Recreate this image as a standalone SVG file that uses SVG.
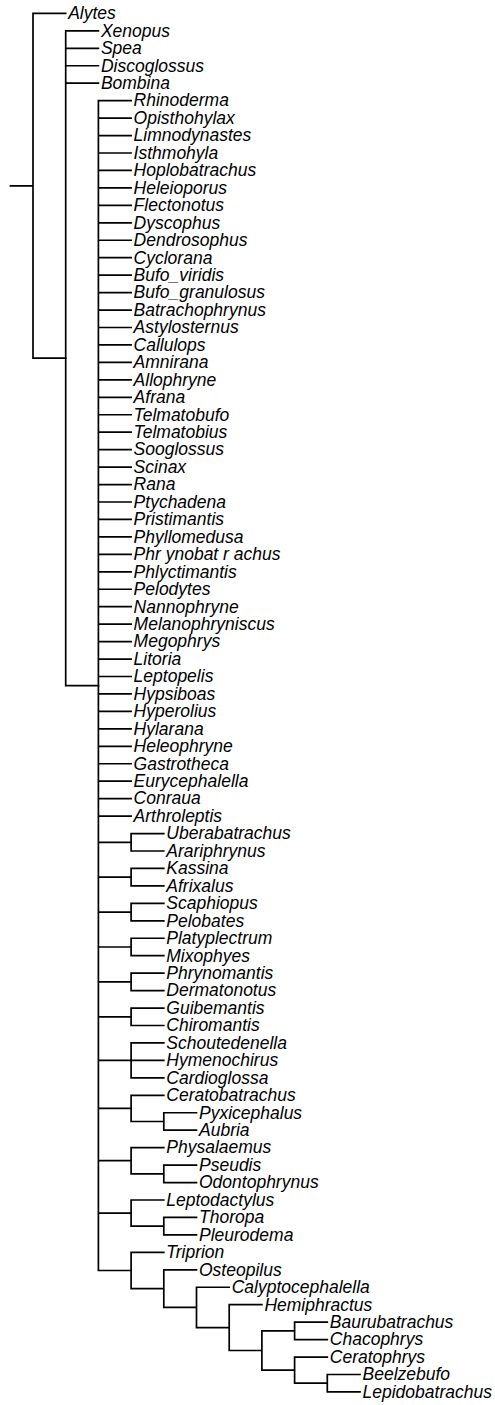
<svg xmlns="http://www.w3.org/2000/svg" width="495" height="1405" viewBox="0 0 495 1405">
<style>
text{font-family:"Liberation Sans",Arial,sans-serif;font-style:italic;font-size:17.5px;fill:#000}
.e{fill:none;stroke:#000;stroke-width:1.7;stroke-linecap:square}
</style>
<rect width="495" height="1405" fill="#fff"/>
<g id="connectors">
<path class="e" d="M10.5 185.8H33M33 13.4V358.2M33 13.4H65.7M33 358.2H65.7"/>
<path class="e" d="M65.7 30.85V685.6M65.7 30.85H98.4M65.7 48.3H98.4M65.7 65.75H98.4M65.7 83.2H98.4M65.7 685.6H98.4"/>
<path class="e" d="M98.4 100.65V1270.5M98.4 100.65H131.1M98.4 118.1H131.1M98.4 135.55H131.1M98.4 153H131.1M98.4 170.45H131.1M98.4 187.9H131.1M98.4 205.35H131.1M98.4 222.8H131.1M98.4 240.25H131.1M98.4 257.7H131.1M98.4 275.15H131.1M98.4 292.6H131.1M98.4 310.05H131.1M98.4 327.5H131.1M98.4 344.95H131.1M98.4 362.4H131.1M98.4 379.85H131.1M98.4 397.3H131.1M98.4 414.75H131.1M98.4 432.2H131.1M98.4 449.65H131.1M98.4 467.1H131.1M98.4 484.55H131.1M98.4 502H131.1M98.4 519.45H131.1M98.4 536.9H131.1M98.4 554.35H131.1M98.4 571.8H131.1M98.4 589.25H131.1M98.4 606.7H131.1M98.4 624.15H131.1M98.4 641.6H131.1M98.4 659.05H131.1M98.4 676.5H131.1M98.4 693.95H131.1M98.4 711.4H131.1M98.4 728.85H131.1M98.4 746.3H131.1M98.4 763.75H131.1M98.4 781.2H131.1M98.4 798.65H131.1M98.4 816.1H131.1M98.4 842.3H131.1M98.4 877.2H131.1M98.4 912.1H131.1M98.4 947H131.1M98.4 981.9H131.1M98.4 1016.8H131.1M98.4 1060.4H131.1M98.4 1108.4H131.1M98.4 1160.7H131.1M98.4 1213.1H131.1M98.4 1270.5H131.1"/>
<path class="e" d="M131.1 833.55V851M131.1 833.55H163.8M131.1 851H163.8"/>
<path class="e" d="M131.1 868.45V885.9M131.1 868.45H163.8M131.1 885.9H163.8"/>
<path class="e" d="M131.1 903.35V920.8M131.1 903.35H163.8M131.1 920.8H163.8"/>
<path class="e" d="M131.1 938.25V955.7M131.1 938.25H163.8M131.1 955.7H163.8"/>
<path class="e" d="M131.1 973.15V990.6M131.1 973.15H163.8M131.1 990.6H163.8"/>
<path class="e" d="M131.1 1008.05V1025.5M131.1 1008.05H163.8M131.1 1025.5H163.8"/>
<path class="e" d="M131.1 1042.95V1077.85M131.1 1042.95H163.8M131.1 1060.4H163.8M131.1 1077.85H163.8"/>
<path class="e" d="M131.1 1095.3V1121.5M131.1 1095.3H163.8M131.1 1121.5H163.8M163.8 1112.75V1130.2M163.8 1112.75H196.5M163.8 1130.2H196.5"/>
<path class="e" d="M131.1 1147.65V1173.8M131.1 1147.65H163.8M131.1 1173.8H163.8M163.8 1165.1V1182.55M163.8 1165.1H196.5M163.8 1182.55H196.5"/>
<path class="e" d="M131.1 1200V1226.2M131.1 1200H163.8M131.1 1226.2H163.8M163.8 1217.45V1234.9M163.8 1217.45H196.5M163.8 1234.9H196.5"/>
<path class="e" d="M131.1 1252.35V1288.6M131.1 1252.35H163.8M131.1 1288.6H163.8M163.8 1269.8V1307.4M163.8 1269.8H196.5M163.8 1307.4H196.5M196.5 1287.25V1327.6M196.5 1287.25H229.2M196.5 1327.6H229.2M229.2 1304.7V1350.5M229.2 1304.7H261.9M229.2 1350.5H261.9M261.9 1330.9V1370.1M261.9 1330.9H294.6M261.9 1370.1H294.6M294.6 1322.15V1339.6M294.6 1322.15H327.3M294.6 1339.6H327.3M294.6 1357.05V1383.2M294.6 1357.05H327.3M294.6 1383.2H327.3M327.3 1374.5V1391.95M327.3 1374.5H360M327.3 1391.95H360"/>
</g>
<g id="n1"><text x="68.2" y="19.2">Alytes</text></g>
<g id="n2"><text x="100.9" y="36.65">Xenopus</text></g>
<g id="n3"><text x="100.9" y="54.1">Spea</text></g>
<g id="n4"><text x="100.9" y="71.55">Discoglossus</text></g>
<g id="n5"><text x="100.9" y="89">Bombina</text></g>
<g id="n6"><text x="133.6" y="106.45">Rhinoderma</text></g>
<g id="n7"><text x="133.6" y="123.9">Opisthohylax</text></g>
<g id="n8"><text x="133.6" y="141.35">Limnodynastes</text></g>
<g id="n9"><text x="133.6" y="158.8">Isthmohyla</text></g>
<g id="n10"><text x="133.6" y="176.25">Hoplobatrachus</text></g>
<g id="n11"><text x="133.6" y="193.7">Heleioporus</text></g>
<g id="n12"><text x="133.6" y="211.15">Flectonotus</text></g>
<g id="n13"><text x="133.6" y="228.6">Dyscophus</text></g>
<g id="n14"><text x="133.6" y="246.05">Dendrosophus</text></g>
<g id="n15"><text x="133.6" y="263.5">Cyclorana</text></g>
<g id="n16"><text x="133.6" y="280.95">Bufo_viridis</text></g>
<g id="n17"><text x="133.6" y="298.4">Bufo_granulosus</text></g>
<g id="n18"><text x="133.6" y="315.85">Batrachophrynus</text></g>
<g id="n19"><text x="133.6" y="333.3">Astylosternus</text></g>
<g id="n20"><text x="133.6" y="350.75">Callulops</text></g>
<g id="n21"><text x="133.6" y="368.2">Amnirana</text></g>
<g id="n22"><text x="133.6" y="385.65">Allophryne</text></g>
<g id="n23"><text x="133.6" y="403.1">Afrana</text></g>
<g id="n24"><text x="133.6" y="420.55">Telmatobufo</text></g>
<g id="n25"><text x="133.6" y="438">Telmatobius</text></g>
<g id="n26"><text x="133.6" y="455.45">Sooglossus</text></g>
<g id="n27"><text x="133.6" y="472.9">Scinax</text></g>
<g id="n28"><text x="133.6" y="490.35">Rana</text></g>
<g id="n29"><text x="133.6" y="507.8">Ptychadena</text></g>
<g id="n30"><text x="133.6" y="525.25">Pristimantis</text></g>
<g id="n31"><text x="133.6" y="542.7">Phyllomedusa</text></g>
<g id="n32"><text x="133.6" y="560.15" xml:space="preserve">Phr ynobat r achus</text></g>
<g id="n33"><text x="133.6" y="577.6">Phlyctimantis</text></g>
<g id="n34"><text x="133.6" y="595.05">Pelodytes</text></g>
<g id="n35"><text x="133.6" y="612.5">Nannophryne</text></g>
<g id="n36"><text x="133.6" y="629.95">Melanophryniscus</text></g>
<g id="n37"><text x="133.6" y="647.4">Megophrys</text></g>
<g id="n38"><text x="133.6" y="664.85">Litoria</text></g>
<g id="n39"><text x="133.6" y="682.3">Leptopelis</text></g>
<g id="n40"><text x="133.6" y="699.75">Hypsiboas</text></g>
<g id="n41"><text x="133.6" y="717.2">Hyperolius</text></g>
<g id="n42"><text x="133.6" y="734.65">Hylarana</text></g>
<g id="n43"><text x="133.6" y="752.1">Heleophryne</text></g>
<g id="n44"><text x="133.6" y="769.55">Gastrotheca</text></g>
<g id="n45"><text x="133.6" y="787">Eurycephalella</text></g>
<g id="n46"><text x="133.6" y="804.45">Conraua</text></g>
<g id="n47"><text x="133.6" y="821.9">Arthroleptis</text></g>
<g id="n48"><text x="166.3" y="839.35">Uberabatrachus</text></g>
<g id="n49"><text x="166.3" y="856.8">Arariphrynus</text></g>
<g id="n50"><text x="166.3" y="874.25">Kassina</text></g>
<g id="n51"><text x="166.3" y="891.7">Afrixalus</text></g>
<g id="n52"><text x="166.3" y="909.15">Scaphiopus</text></g>
<g id="n53"><text x="166.3" y="926.6">Pelobates</text></g>
<g id="n54"><text x="166.3" y="944.05">Platyplectrum</text></g>
<g id="n55"><text x="166.3" y="961.5">Mixophyes</text></g>
<g id="n56"><text x="166.3" y="978.95">Phrynomantis</text></g>
<g id="n57"><text x="166.3" y="996.4">Dermatonotus</text></g>
<g id="n58"><text x="166.3" y="1013.85">Guibemantis</text></g>
<g id="n59"><text x="166.3" y="1031.3">Chiromantis</text></g>
<g id="n60"><text x="166.3" y="1048.75">Schoutedenella</text></g>
<g id="n61"><text x="166.3" y="1066.2">Hymenochirus</text></g>
<g id="n62"><text x="166.3" y="1083.65">Cardioglossa</text></g>
<g id="n63"><text x="166.3" y="1101.1">Ceratobatrachus</text></g>
<g id="n64"><text x="199" y="1118.55">Pyxicephalus</text></g>
<g id="n65"><text x="199" y="1136">Aubria</text></g>
<g id="n66"><text x="166.3" y="1153.45">Physalaemus</text></g>
<g id="n67"><text x="199" y="1170.9">Pseudis</text></g>
<g id="n68"><text x="199" y="1188.35">Odontophrynus</text></g>
<g id="n69"><text x="166.3" y="1205.8">Leptodactylus</text></g>
<g id="n70"><text x="199" y="1223.25">Thoropa</text></g>
<g id="n71"><text x="199" y="1240.7">Pleurodema</text></g>
<g id="n72"><text x="166.3" y="1258.15">Triprion</text></g>
<g id="n73"><text x="199" y="1275.6">Osteopilus</text></g>
<g id="n74"><text x="231.7" y="1293.05">Calyptocephalella</text></g>
<g id="n75"><text x="264.4" y="1310.5">Hemiphractus</text></g>
<g id="n76"><text x="329.8" y="1327.95">Baurubatrachus</text></g>
<g id="n77"><text x="329.8" y="1345.4">Chacophrys</text></g>
<g id="n78"><text x="329.8" y="1362.85">Ceratophrys</text></g>
<g id="n79"><text x="362.5" y="1380.3">Beelzebufo</text></g>
<g id="n80"><text x="362.5" y="1397.75">Lepidobatrachus</text></g>
</svg>
